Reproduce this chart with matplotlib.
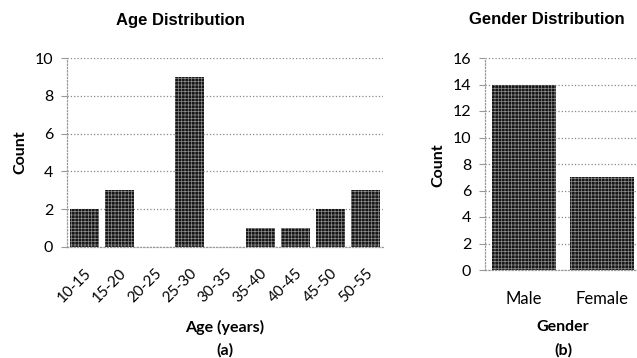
import matplotlib
matplotlib.use("Agg")
import matplotlib.pyplot as plt

# data
age_groups = ['10-15', '15-20', '20-25', '25-30', '30-35', '35-40', '40-45', '45-50', '50-55']
age_counts = [2, 3, 0, 9, 0, 1, 1, 2, 3]
genders = ['Male', 'Female']
gender_counts = [14, 7]

plt.rcParams['hatch.linewidth'] = 0.5
tick_font = ['Lato', 'DejaVu Sans']
title_font = ['Liberation Sans Narrow', 'Liberation Sans']

fig = plt.figure(figsize=(6.37, 3.58), dpi=100)
ax1 = fig.add_axes([67/637, 1-247/358, 316/637, 189/358])
ax2 = fig.add_axes([485/637, 1-270/358, 156/637, 212/358])


def style_axis(ax, ymax, step):
    ax.set_ylim(0, ymax)
    ax.set_yticks(range(0, ymax + 1, step))
    ax.grid(axis='y', color='#888888', linestyle=':', linewidth=0.9)
    ax.set_axisbelow(True)
    for s in ['top', 'right']:
        ax.spines[s].set_visible(False)
    for s in ['left', 'bottom']:
        ax.spines[s].set_color('#999999')
        ax.spines[s].set_linestyle(':')
        ax.spines[s].set_linewidth(0.9)
    ax.tick_params(axis='y', length=4, color='#999999', labelsize=11.5, pad=6)
    ax.tick_params(axis='x', length=0, labelsize=11)
    for lab in ax.get_yticklabels() + ax.get_xticklabels():
        lab.set_family(tick_font)


# Age plot
ax1.bar(range(len(age_groups)), age_counts, width=0.83, facecolor='#161616',
        edgecolor='#8c8c8c', linewidth=0, hatch='+++++')
ax1.set_xlim(-0.5, len(age_groups) - 0.5)
ax1.set_xticks(range(len(age_groups)))
ax1.set_xticklabels(age_groups, rotation=45, ha='right', rotation_mode='anchor')
style_axis(ax1, 10, 2)
ax1.tick_params(axis='x', pad=14)

# Gender plot
ax2.bar(range(len(genders)), gender_counts, width=0.83, facecolor='#161616',
        edgecolor='#8c8c8c', linewidth=0, hatch='+++++')
ax2.set_xlim(-0.5, 1.5)
ax2.set_xticks(range(len(genders)))
ax2.set_xticklabels(genders)
style_axis(ax2, 16, 2)
ax2.tick_params(axis='x', labelsize=12, pad=15)

# titles and labels
fig.text(180/637, 1-20/358, 'Age Distribution', ha='center', va='center',
         fontsize=12, fontweight='bold', family=title_font)
fig.text(547/637, 1-20/358, 'Gender Distribution', ha='center', va='center',
         fontsize=12, fontweight='bold', family=title_font)
fig.text(20/637, 1-152/358, 'Count', rotation=90, ha='center', va='center',
         fontsize=11.5, fontweight='bold', family=tick_font)
fig.text(438/637, 1-165/358, 'Count', rotation=90, ha='center', va='center',
         fontsize=11.5, fontweight='bold', family=tick_font)
fig.text(225/637, 1-327/358, 'Age (years)', ha='center', va='center',
         fontsize=11.5, fontweight='bold', family=tick_font)
fig.text(225/637, 1-350/358, '(a)', ha='center', va='center',
         fontsize=11.5, fontweight='bold', family=tick_font)
fig.text(563/637, 1-327/358, 'Gender', ha='center', va='center',
         fontsize=11.5, fontweight='bold', family=tick_font)
fig.text(563/637, 1-350/358, '(b)', ha='center', va='center',
         fontsize=11.5, fontweight='bold', family=tick_font)

fig.savefig('out.png', dpi=100)
